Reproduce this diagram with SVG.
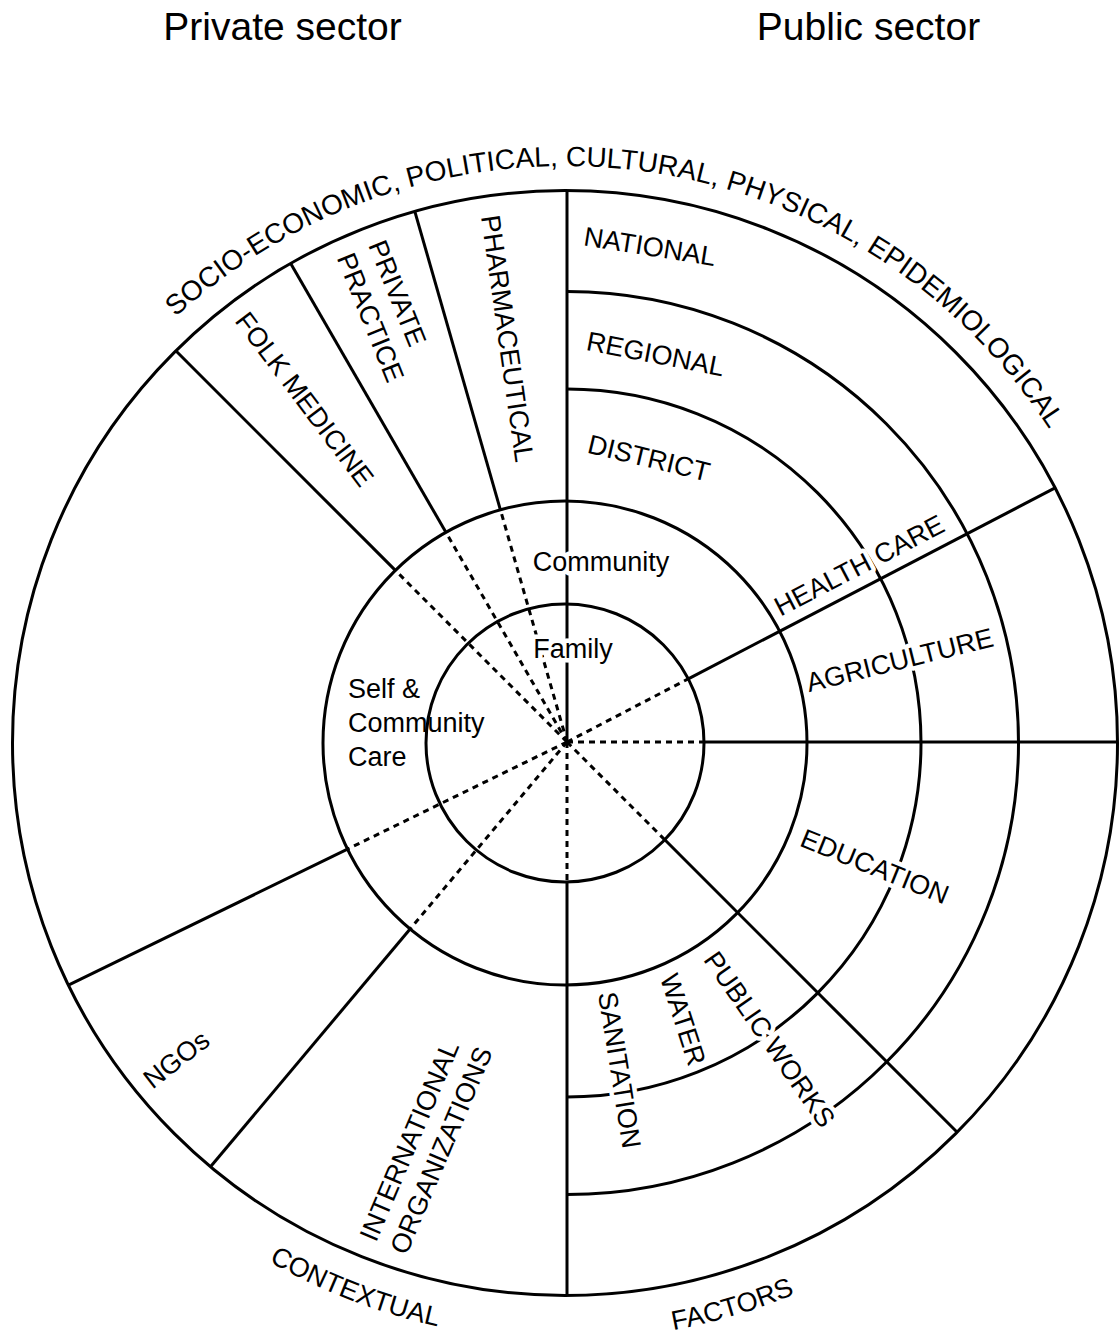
<svg xmlns="http://www.w3.org/2000/svg" width="1119" height="1335" viewBox="0 0 1119 1335">
<style>
.ln{fill:none;stroke:#000;stroke-width:3}
.dt{fill:none;stroke:#000;stroke-width:3;stroke-dasharray:6 5}
text{font-family:"Liberation Sans",Arial,Helvetica,sans-serif;fill:#000}
.lb{font-size:27px;text-anchor:middle}
.st{font-size:27px;text-anchor:start}
.h{paint-order:stroke;stroke:#fff;stroke-width:9px;stroke-linejoin:round}
.hd{font-size:39px;text-anchor:middle}
.top{font-size:28px;text-anchor:middle}
.bot{font-size:27px;text-anchor:middle}
</style>
<defs>
<path id="topArc" d="M -12 743 A 577 577 0 0 1 1142 743"/>
<path id="botArc" d="M -32 743 A 597 597 0 0 0 1162 743"/>
</defs>
<rect width="1119" height="1335" fill="#fff"/>
<g id="rings">
<circle id="outer-ring" cx="565" cy="743" r="552.5" class="ln"/>
<circle id="community-ring" cx="565" cy="743" r="242" class="ln"/>
<circle id="family-ring" cx="565" cy="743" r="139" class="ln"/>
<path id="district-arc" class="ln" d="M567 389 A354 354 0 0 1 567 1097"/>
<path id="regional-arc" class="ln" d="M567 291.5 A451.5 451.5 0 0 1 567 1194.5"/>
</g>
<g id="connectors">
<path class="ln" d="M567 742 V190.5"/>
<path class="ln" d="M500.4 509.8 L414.8 211.3"/>
<path class="ln" d="M445.9 532.3 L290.7 263.4"/>
<path class="ln" d="M395.4 570.4 L175.8 350.8"/>
<path class="ln" d="M347.5 849.1 L68.4 985.2"/>
<path class="ln" d="M410.1 929 L210.5 1166.8"/>
<path class="ln" d="M567 882 V1295.5"/>
<path class="ln" d="M664.8 839.8 L957.2 1132.2"/>
<path class="ln" d="M704 742 H1117.5"/>
<path class="ln" d="M688.3 678.8 L1055.1 487.9"/>
<path class="dt" d="M567 742 L500.4 509.8"/>
<path class="dt" d="M567 742 L445.9 532.3"/>
<path class="dt" d="M567 742 L395.4 570.4"/>
<path class="dt" d="M567 742 L347.5 849.1"/>
<path class="dt" d="M567 742 L410.1 929"/>
<path class="dt" d="M567 742 V882"/>
<path class="dt" d="M567 742 L664.8 839.8"/>
<path class="dt" d="M567 742 H704"/>
<path class="dt" d="M567 742 L688.3 678.8"/>
</g>
<g id="headers">
<text class="hd" x="282.5" y="40">Private sector</text>
<text class="hd" x="868.5" y="40">Public sector</text>
</g>
<g id="context">
<text class="top"><textPath href="#topArc" startOffset="979.9">SOCIO-ECONOMIC, POLITICAL, CULTURAL, PHYSICAL, EPIDEMIOLOGICAL</textPath></text>
<text class="bot"><textPath href="#botArc" startOffset="718.5">CONTEXTUAL</textPath></text>
<text class="bot"><textPath href="#botArc" startOffset="1110.2">FACTORS</textPath></text>
</g>
<g id="node-community"><text class="lb h" x="601" y="571">Community</text></g>
<g id="node-family"><text class="lb h" x="573" y="658">Family</text></g>
<g id="node-self-care"><text class="st" x="348" y="698">Self &amp;</text><text class="st" x="348" y="732">Community</text><text class="st" x="348" y="766">Care</text></g>
<g id="node-national"><text class="lb h" transform="translate(650,246) rotate(9)" dy="0.36em">NATIONAL</text></g>
<g id="node-regional"><text class="lb h" transform="translate(655.5,353.5) rotate(11)" dy="0.36em">REGIONAL</text></g>
<g id="node-district"><text class="lb h" transform="translate(649,457.5) rotate(13.5)" dy="0.36em">DISTRICT</text></g>
<g id="node-health-care"><text class="lb h" transform="translate(863.5,573.5) rotate(-27.5)">HEALTH CARE</text></g>
<g id="node-agriculture"><text class="lb h" transform="translate(902,669) rotate(-14)">AGRICULTURE</text></g>
<g id="node-education"><text class="lb h" transform="translate(875,866) rotate(22)" dy="0.36em">EDUCATION</text></g>
<g id="node-public-works"><text class="lb h" transform="translate(770,1039) rotate(55)" dy="0.36em">PUBLIC WORKS</text></g>
<g id="node-water"><text class="lb h" transform="translate(683.5,1019.5) rotate(72)" dy="0.36em">WATER</text></g>
<g id="node-sanitation"><text class="lb h" transform="translate(620,1070) rotate(81)" dy="0.36em">SANITATION</text></g>
<g id="node-pharmaceutical"><text class="lb h" transform="translate(508,338.5) rotate(82)" dy="0.36em">PHARMACEUTICAL</text></g>
<g id="node-private-practice"><text class="st h" transform="translate(368,245) rotate(68)"><tspan x="0" y="0">PRIVATE</tspan><tspan x="0" y="34">PRACTICE</tspan></text></g>
<g id="node-folk-medicine"><text class="lb h" transform="translate(305,399) rotate(53)" dy="0.36em">FOLK MEDICINE</text></g>
<g id="node-ngos"><text class="lb h" transform="translate(176,1059) rotate(-38)" dy="0.36em">NGOs</text></g>
<g id="node-international"><text class="st h" transform="translate(376,1243) rotate(-67)"><tspan x="0" y="0">INTERNATIONAL</tspan><tspan x="0" y="33">ORGANIZATIONS</tspan></text></g>
</svg>
